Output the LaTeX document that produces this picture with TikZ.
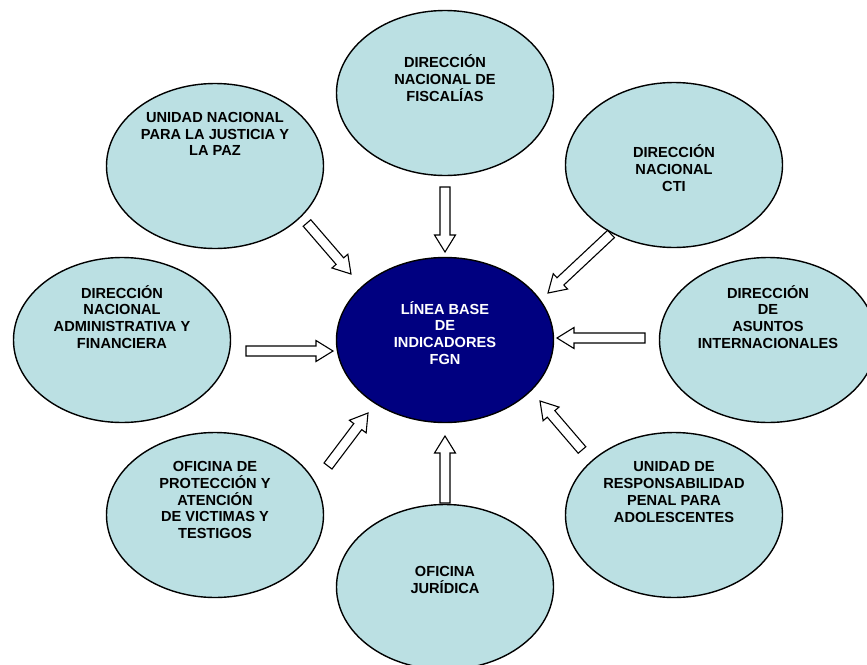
\documentclass[tikz,border=0pt]{standalone}
\usepackage{fontspec}
\setmainfont{Liberation Sans}
\usetikzlibrary{positioning,calc,shapes.geometric}
\definecolor{celeste}{HTML}{BBE0E3}
\definecolor{marino}{HTML}{000080}
\tikzset{>=latex}
\tikzset{
  unidad/.style={ellipse,draw=black,line width=1.4pt,fill=celeste,minimum width=217pt,minimum height=165pt,inner sep=0pt,outer sep=0pt},
  central/.style={unidad,fill=marino},
  rotulo/.style={align=center,inner sep=0pt,font=\bfseries\fontsize{14.6}{16.9}\selectfont},
  flecha/.style={draw=black,line width=1.1pt,fill=white,line join=miter}
}
\newcommand{\flechabloque}[2]{%
  \coordinate (cuello) at ($(#2)!17pt!(#1)$);
  \path [flecha] ($(#1)!5pt!90:(#2)$) -- ($(cuello)!5pt!90:(#2)$) -- ($(cuello)!10.5pt!90:(#2)$) -- (#2)
    -- ($(cuello)!10.5pt!-90:(#2)$) -- ($(cuello)!5pt!-90:(#2)$) -- ($(#1)!5pt!-90:(#2)$) -- cycle;
}

\begin{document}
\begin{tikzpicture}[x=1pt,y=-1pt]
    \useasboundingbox (0,0) rectangle (867,664);
    \clip (0,0) rectangle (867,664);

    \node [central] (fgn) at (445,340) {};
    \node [unidad,above=82pt of fgn] (fiscalias) {};
    \node [unidad,below=82pt of fgn] (juridica) {};
    \node [unidad,left=106pt of fgn] (administrativa) {};
    \node [unidad,right=106pt of fgn] (internacionales) {};
    \node [unidad] (paz) at (215,166) {};
    \node [unidad] (cti) at (674,165) {};
    \node [unidad] (victimas) at (215,515) {};
    \node [unidad] (adolescentes) at (674,515) {};

    \node [rotulo,text=white] (fgn-t) at ($(fgn)+(0,-7)$) {LÍNEA BASE\\DE\\INDICADORES\\FGN};
    \node [rotulo] (fiscalias-t) at ($(fiscalias)+(0,-15)$) {DIRECCIÓN\\NACIONAL DE\\FISCALÍAS};
    \node [rotulo] (juridica-t) at ($(juridica)+(0,-7)$) {OFICINA\\JURÍDICA};
    \node [rotulo] (administrativa-t) at ($(administrativa)+(0,-23)$) {DIRECCIÓN\\NACIONAL\\ADMINISTRATIVA Y\\FINANCIERA};
    \node [rotulo] (internacionales-t) at ($(internacionales)+(0,-23)$) {DIRECCIÓN\\DE\\ASUNTOS\\INTERNACIONALES};
    \node [rotulo] (paz-t) at ($(paz)+(0,-32)$) {UNIDAD NACIONAL\\PARA LA JUSTICIA Y\\LA PAZ};
    \node [rotulo] (cti-t) at ($(cti)+(0,3)$) {DIRECCIÓN\\NACIONAL\\CTI};
    \node [rotulo] (victimas-t) at ($(victimas)+(0,-15)$) {OFICINA DE\\PROTECCIÓN Y\\ATENCIÓN\\DE VICTIMAS Y\\TESTIGOS};
    \node [rotulo] (adolescentes-t) at ($(adolescentes)+(0,-23)$) {UNIDAD DE\\RESPONSABILIDAD\\PENAL PARA\\ADOLESCENTES};

    % flechas hacia la linea base
    \coordinate (fiscalias-a) at (445,187);   \coordinate (fiscalias-b) at (445,252);
    \coordinate (paz-a) at (307,223);         \coordinate (paz-b) at (351,274);
    \coordinate (cti-a) at (611,234);         \coordinate (cti-b) at (548,293);
    \coordinate (internacionales-a) at (645,338); \coordinate (internacionales-b) at (557,338);
    \coordinate (administrativa-a) at (246,351);  \coordinate (administrativa-b) at (333,351);
    \coordinate (victimas-a) at (328,466);    \coordinate (victimas-b) at (368,413);
    \coordinate (juridica-a) at (445,503);    \coordinate (juridica-b) at (445,436);
    \coordinate (adolescentes-a) at (582,450); \coordinate (adolescentes-b) at (540,401);

    \foreach \u in {fiscalias,paz,cti,internacionales,administrativa,victimas,juridica,adolescentes}
        \flechabloque{\u-a}{\u-b};
\end{tikzpicture}
\end{document}
